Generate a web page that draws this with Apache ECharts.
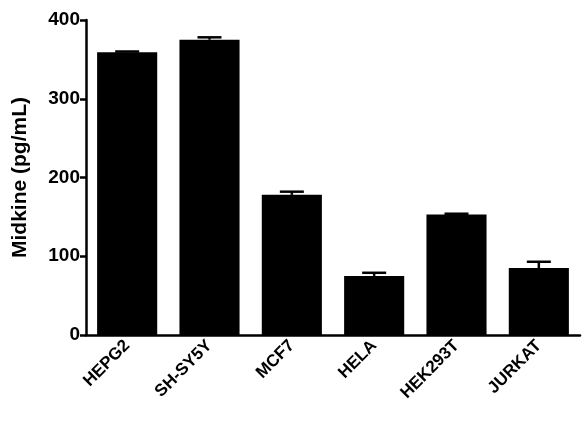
<!DOCTYPE html>
<html><head><meta charset="utf-8">
<script src="https://cdn.jsdelivr.net/npm/echarts@6/dist/echarts.min.js"></script>
<style>html,body{margin:0;background:#fff}#chart{width:583px;height:438px}</style>
</head><body><div id="chart"></div>
<script>
var categories = ['HEPG2', 'SH-SY5Y', 'MCF7', 'HELA', 'HEK293T', 'JURKAT'];
var means = [359, 375, 178, 75, 153, 85];
var errors = [1, 3, 4, 4, 1, 8];
var yTicks = [0, 100, 200, 300, 400];

var chart = echarts.init(document.getElementById('chart'));
var font = 'Liberation Sans';
chart.setOption({
    animation: false,
    grid: { left: 86, right: 3, top: 20, bottom: 103, containLabel: false },
    xAxis: {
        type: 'category', data: categories,
        axisLine: { lineStyle: { color: '#000', width: 2.5 } },
        axisTick: { show: false },
        axisLabel: { rotate: 45, color: '#000', fontWeight: 'bold', fontSize: 17, fontFamily: font, margin: 8 }
    },
    yAxis: {
        type: 'value', min: 0, max: 400, interval: 100,
        name: 'Midkine (pg/mL)', nameLocation: 'middle', nameGap: 55,
        nameTextStyle: { color: '#000', fontWeight: 'bold', fontSize: 21, fontFamily: font },
        axisLine: { show: true, lineStyle: { color: '#000', width: 2.5 } },
        axisTick: { show: true, length: 6, lineStyle: { color: '#000', width: 2.5 } },
        splitLine: { show: false },
        axisLabel: { color: '#000', fontWeight: 'bold', fontSize: 19, fontFamily: font, margin: 6,
            formatter: function (v) { return yTicks.indexOf(v) >= 0 ? v : ''; } }
    },
    series: [{
        type: 'bar', data: means, barCategoryGap: '27%',
        itemStyle: { color: '#000' }
    }, {
        type: 'custom',
        data: means.map(function (m, i) { return [i, m, m + errors[i]]; }),
        renderItem: function (params, api) {
            var x = api.coord([api.value(0), api.value(1)]);
            var top = api.coord([api.value(0), api.value(2)]);
            var w = 12;
            return { type: 'group', children: [
                { type: 'line', shape: { x1: x[0], y1: x[1], x2: top[0], y2: top[1] }, style: { stroke: '#000', lineWidth: 2.5 } },
                { type: 'line', shape: { x1: top[0] - w, y1: top[1], x2: top[0] + w, y2: top[1] }, style: { stroke: '#000', lineWidth: 2.5 } }
            ] };
        },
        z: 3
    }]
});
</script></body></html>
